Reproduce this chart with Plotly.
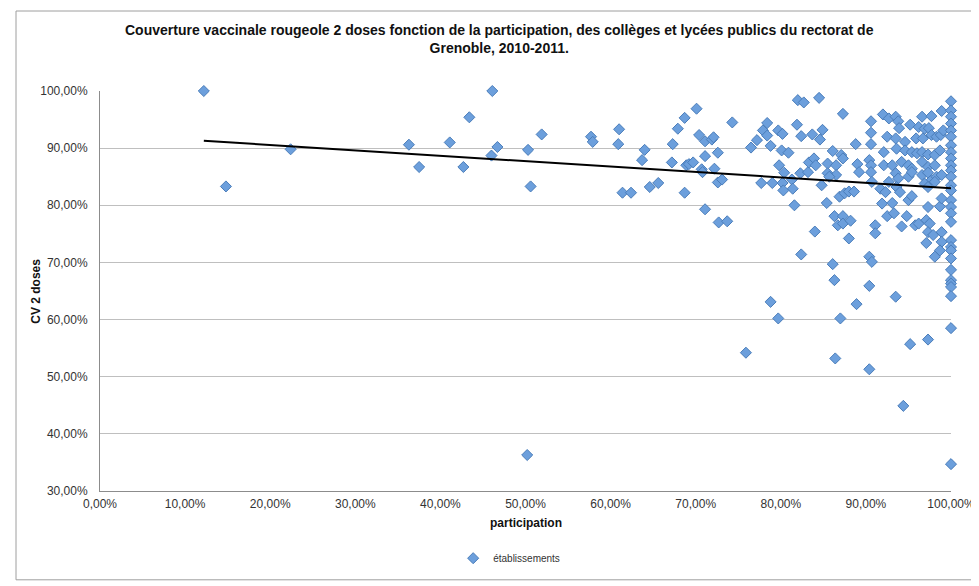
import plotly.graph_objects as go

# participation (%) and CV 2 doses (%) per establishment
participation = [
    12.2, 14.8, 22.4, 36.3, 37.5, 41.1, 42.7, 43.4, 46.1, 46.0, 46.7, 50.3, 50.6, 51.9, 50.2,
    57.7, 57.9, 61.0, 60.9, 64.0, 63.7, 61.4, 62.4, 64.6, 65.6, 67.3, 67.2, 67.9, 68.7, 70.1,
    70.4, 71.1, 71.9, 72.1, 72.6, 71.1, 68.9, 69.2, 69.7, 70.7, 70.8, 72.2, 72.6, 73.1, 68.7,
    71.1, 72.7, 73.7, 74.3, 76.5, 77.2, 77.9, 78.4, 78.4, 78.8, 77.7, 79.0, 79.7, 78.8, 79.7, 75.9,
    80.2, 80.1, 80.9, 79.8, 80.4, 80.2, 81.3, 81.4, 80.3, 81.9, 82.0, 82.7, 82.4, 82.3, 83.2, 83.3, 83.7,
    81.6, 84.0, 82.4,
    84.5, 87.3, 84.9, 84.6, 88.8, 90.6, 90.6, 90.6, 92.0, 92.7, 93.5, 93.8, 93.9, 95.2, 96.6, 97.7,
    98.9, 96.2, 96.9, 97.4, 92.5, 93.5, 94.6, 95.9, 96.7, 97.7, 98.3, 98.8, 99.1, 92.1, 93.6, 94.6,
    95.4, 96.0, 96.6, 97.3, 98.1, 98.7, 86.1, 87.1, 87.3, 83.9, 84.1, 85.5, 86.5, 89.0, 89.2, 90.4,
    90.6, 90.6, 92.1, 93.1, 94.2, 95.0, 95.4, 96.6, 97.3, 98.1, 85.5, 86.5, 85.7, 90.7, 93.5, 93.8,
    95.0, 95.4, 96.6, 97.3, 97.7, 98.3, 98.9, 96.9, 98.1, 97.3, 84.8, 92.7, 91.7, 92.3, 93.6, 94.0,
    86.9, 87.5, 88.0, 88.6,
    100, 100, 100, 100, 100, 100, 100, 100, 100, 100, 100, 100, 100, 100, 100, 100, 100, 100, 100,
    100, 100, 100, 100, 100, 100, 100, 100, 100, 100,
    85.4, 91.9, 93.1, 95.0, 95.4, 97.3, 98.7, 98.9, 86.3, 87.3, 86.7, 87.3, 88.2, 88.0, 92.5, 93.3,
    94.8, 94.2, 91.1, 91.1, 95.8, 96.2, 97.1, 97.5, 97.3, 97.9, 98.9, 97.1, 98.9, 98.7, 98.1, 90.4,
    90.7, 86.1, 86.3, 90.4, 93.5,
    88.9, 87.0, 95.2, 97.3, 86.4, 90.4, 94.4,
]
cv_2_doses = [
    100.0, 83.3, 89.8, 90.6, 86.7, 91.0, 86.7, 95.4, 100.0, 88.7, 90.2, 89.7, 83.3, 92.4, 36.3,
    92.0, 91.1, 93.3, 90.7, 89.7, 87.9, 82.2, 82.2, 83.2, 83.9, 90.7, 87.5, 93.4, 95.3, 96.9,
    92.3, 91.2, 91.5, 91.9, 89.2, 88.6, 87.0, 87.2, 87.5, 86.3, 85.8, 86.4, 84.0, 84.5, 82.2,
    79.3, 77.0, 77.2, 94.5, 90.1, 91.4, 93.1, 94.4, 92.2, 90.4, 83.9, 83.9, 93.1, 63.1, 60.2, 54.2,
    92.5, 89.6, 89.2, 87.0, 85.7, 83.9, 84.5, 82.9, 82.6, 94.1, 98.4, 98.0, 92.1, 85.6, 85.8, 87.5, 92.4,
    80.0, 75.4, 71.4,
    98.8, 96.0, 93.2, 91.5, 90.7, 94.7, 92.7, 90.7, 95.9, 95.2, 95.5, 94.7, 93.5, 94.1, 95.5, 95.6,
    96.5, 93.7, 93.4, 93.5, 92.0, 91.7, 91.1, 91.7, 91.7, 92.3, 92.0, 92.3, 93.1, 89.3, 89.9, 89.6,
    89.3, 89.1, 89.3, 88.9, 88.8, 89.6, 89.5, 88.8, 88.2, 88.2, 87.0, 87.3, 87.0, 87.2, 85.8, 87.9,
    87.0, 85.8, 87.0, 87.0, 87.6, 87.0, 86.4, 87.6, 86.7, 87.0, 85.6, 85.3, 85.0, 84.1, 85.6, 84.7,
    85.0, 85.8, 85.3, 85.7, 84.4, 85.0, 85.3, 83.8, 84.1, 83.2, 83.5, 84.1, 82.9, 82.3, 83.2, 82.3,
    81.5, 82.1, 82.4, 82.4,
    98.2, 96.6, 95.5, 94.3, 93.1, 92.0, 90.5, 89.3, 88.2, 87.0, 86.1, 85.0, 83.5, 82.6, 80.9, 79.7,
    78.6, 77.1, 73.9, 72.7, 72.1, 70.7, 68.7, 66.9, 66.3, 65.7, 64.1, 58.5, 34.7,
    80.4, 80.3, 80.4, 80.9, 81.6, 79.7, 79.8, 81.2, 78.1, 78.1, 76.5, 76.8, 77.3, 74.2, 78.1, 78.6,
    78.1, 76.3, 76.5, 75.1, 76.5, 76.8, 77.4, 76.8, 75.3, 74.8, 75.3, 73.4, 73.6, 72.1, 71.0, 71.0,
    70.1, 69.7, 66.9, 65.9, 64.0,
    62.7, 60.2, 55.7, 56.5, 53.2, 51.3, 44.9,
]

# linear trend line (endpoints)
trend_x = [12.2, 100.0]
trend_y = [91.3, 83.0]

x_ticks = [0, 10, 20, 30, 40, 50, 60, 70, 80, 90, 100]
x_tick_text = ["0,00%", "10,00%", "20,00%", "30,00%", "40,00%", "50,00%",
               "60,00%", "70,00%", "80,00%", "90,00%", "100,00%"]
y_ticks = [30, 40, 50, 60, 70, 80, 90, 100]
y_tick_text = ["30,00%", "40,00%", "50,00%", "60,00%", "70,00%", "80,00%", "90,00%", "100,00%"]

title_text = ("Couverture vaccinale rougeole 2 doses fonction de la participation, des collèges et lycées publics du rectorat de"
              "<br>Grenoble, 2010-2011.")

FONT = "Liberation Sans"

fig = go.Figure()
fig.add_trace(go.Scatter(
    x=participation, y=cv_2_doses, mode="markers", name="établissements",
    marker=dict(symbol="diamond", size=8.5, color="#6C9FDC",
                line=dict(color="#4A7DBA", width=1)),
    cliponaxis=False,
))
fig.add_trace(go.Scatter(
    x=trend_x, y=trend_y, mode="lines", showlegend=False,
    line=dict(color="black", width=2), cliponaxis=False,
))

fig.update_layout(
    width=979, height=578,
    margin=dict(l=92, r=26, t=83, b=95),
    paper_bgcolor="white", plot_bgcolor="white",
    font=dict(family=FONT, size=12, color="#333333"),
    showlegend=True,
    legend=dict(orientation="h", x=0.415, xanchor="left", y=-0.168, yanchor="middle",
                font=dict(size=10, color="#333333")),
    xaxis=dict(range=[0, 100], tickvals=x_ticks, ticktext=x_tick_text,
               showgrid=False, zeroline=False, showline=True, linecolor="#8C8C8C",
               linewidth=1, ticks="", ticklabelstandoff=2,
               tickfont=dict(size=12, color="#333333")),
    yaxis=dict(range=[30, 100], tickvals=y_ticks, ticktext=y_tick_text,
               showgrid=True, gridcolor="#BFBFBF", gridwidth=1, zeroline=False,
               showline=True, linecolor="#8C8C8C", linewidth=1, ticks="",
               ticklabelstandoff=9,
               tickfont=dict(size=12, color="#333333")),
    annotations=[
        dict(text="<b>" + title_text + "</b>", xref="paper", yref="paper",
             x=0.470, y=1.131, xanchor="center", yanchor="middle", showarrow=False,
             font=dict(size=14, color="#111111"), align="center"),
        dict(text="<b>participation</b>", xref="paper", yref="paper",
             x=0.5, y=-0.079, xanchor="center", yanchor="middle", showarrow=False,
             font=dict(size=12, color="#111111")),
        dict(text="<b>CV 2 doses</b>", xref="paper", yref="paper",
             x=-0.0755, y=0.5, xanchor="center", yanchor="middle", showarrow=False,
             textangle=-90, font=dict(size=12, color="#111111")),
    ],
    shapes=[
        dict(type="rect", xref="paper", yref="paper",
             x0=-0.0987, x1=1.0256, y0=-0.222, y1=1.2,
             line=dict(color="#9E9E9E", width=1), fillcolor="rgba(0,0,0,0)", layer="below"),
    ],
)

fig.write_html("out.html")
